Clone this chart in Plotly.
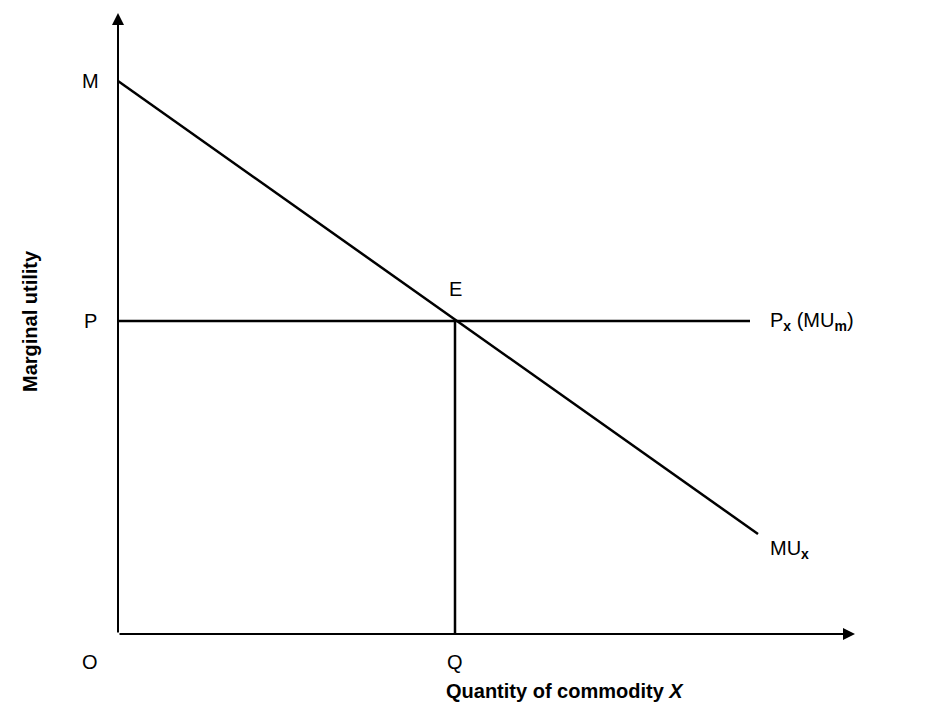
import plotly.graph_objects as go

# data (units = chart units, origin O at 0,0)
mu_x = [0, 640]
mu_y = [553, 100]
px_x = [0, 632]
px_y = [313, 313]
q_x = [337, 337]
q_y = [0, 313]
labels = {"M": (-28, 553), "P": (-28, 313), "O": (-28, -28), "Q": (337, -28), "E": (337, 345)}

fig = go.Figure()
for xs, ys in [(mu_x, mu_y), (px_x, px_y), (q_x, q_y)]:
    fig.add_trace(go.Scatter(x=xs, y=ys, mode="lines", line=dict(color="black", width=2.5),
                             hoverinfo="skip", showlegend=False))

f = dict(family="Liberation Sans, Arial", size=20, color="black")
for t, (x, y) in labels.items():
    fig.add_annotation(x=x, y=y, text=t, showarrow=False, font=f)
fig.add_annotation(x=650, y=313, text="P<sub><b>x</b></sub> (MU<sub><b>m</b></sub>)", showarrow=False,
                   xanchor="left", font=f)
fig.add_annotation(x=650, y=85, text="MU<sub><b>x</b></sub>", showarrow=False, xanchor="left", font=f)
# axes arrows
fig.add_annotation(x=737, y=0, ax=0, ay=0, axref="x", ayref="y", xref="x", yref="y", text="",
                   showarrow=True, arrowhead=2, arrowsize=1.2, arrowwidth=2, arrowcolor="black")
fig.add_annotation(x=0, y=621, ax=0, ay=0, axref="x", ayref="y", xref="x", yref="y", text="",
                   showarrow=True, arrowhead=2, arrowsize=1.2, arrowwidth=2, arrowcolor="black")
fig.add_annotation(x=447, y=-57, text="<b>Quantity of commodity <i>X</i></b>", showarrow=False,
                   font=dict(family="Liberation Sans, Arial", size=20, color="black"))
fig.add_annotation(x=-88, y=313, text="<b>Marginal utility</b>", showarrow=False, textangle=-90,
                   font=dict(family="Liberation Sans, Arial", size=20, color="black"))

fig.update_layout(width=940, height=720, margin=dict(l=0, r=0, t=0, b=0),
                  plot_bgcolor="white", paper_bgcolor="white",
                  xaxis=dict(range=[-110, 830], visible=False),
                  yaxis=dict(range=[-94, 626], visible=False))
fig.write_html("out.html")
